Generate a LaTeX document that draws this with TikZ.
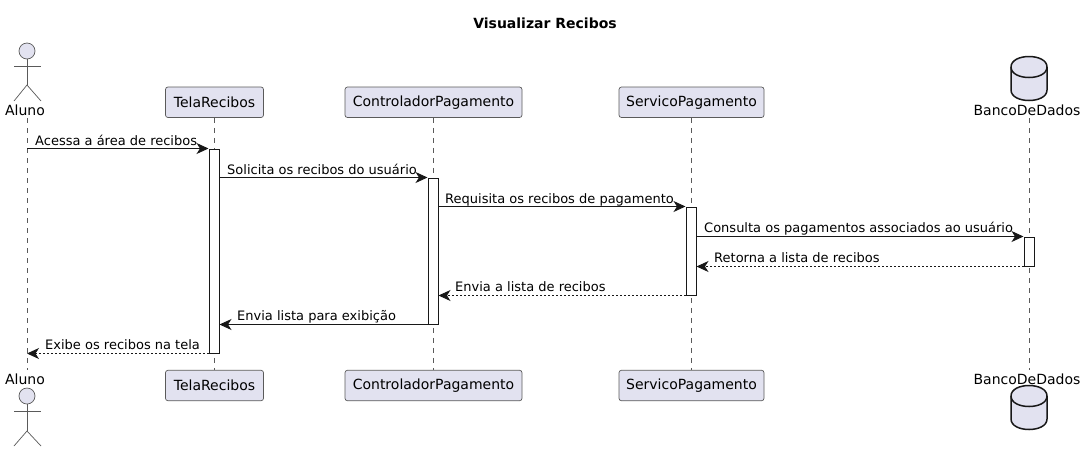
\documentclass[tikz,border=0pt]{standalone}
\usepackage{fontspec}
\setmainfont{DejaVu Sans}
\usetikzlibrary{arrows.meta}

\definecolor{partfill}{HTML}{E2E2F0}
\definecolor{partline}{HTML}{181818}
\definecolor{thinline}{HTML}{5A5A5A}

\tikzset{
    part/.style={draw=thinline, line width=0.7pt, fill=partfill, rounded corners=2.5pt,
        minimum height=30.5pt, inner sep=0pt, font=\fontsize{14}{14}\selectfont},
    lifeline/.style={draw=thinline, line width=0.6pt, dash pattern=on 5pt off 5pt},
    activation/.style={draw=partline, line width=1pt, fill=white, minimum width=10pt, inner sep=0pt},
    msg/.style={draw=partline, line width=1pt, -{Stealth[length=12pt, width=11pt, inset=3.5pt]}},
    reply/.style={msg, dash pattern=on 2pt off 2pt},
    msglabel/.style={anchor=base west, inner sep=0pt, font=\fontsize{13}{13}\selectfont},
    actorlabel/.style={anchor=base, inner sep=0pt, font=\fontsize{14}{14}\selectfont},
    actorline/.style={draw=thinline, line width=0.7pt},
    dbline/.style={draw=partline, line width=1.5pt}
}

\begin{document}
\begin{tikzpicture}[x=1pt, y=-1pt]

    % Fix the page
    \useasboundingbox (0,0) rectangle (1086,451);

    % Title
    \node[inner sep=0pt, font=\fontsize{14}{14}\selectfont\bfseries] (title) at (545,23) {Visualizar Recibos};

    % Participants, top row and bottom row
    \node[part, minimum width=98pt] (telaTop) at (214.5,102.25) {TelaRecibos};
    \node[part, minimum width=177pt] (ctrlTop) at (433.5,102.25) {ControladorPagamento};
    \node[part, minimum width=145pt] (servTop) at (691.5,102.25) {ServicoPagamento};
    \node[part, minimum width=98pt] (telaBot) at (214.5,385.5) {TelaRecibos};
    \node[part, minimum width=177pt] (ctrlBot) at (433.5,385.5) {ControladorPagamento};
    \node[part, minimum width=145pt] (servBot) at (691.5,385.5) {ServicoPagamento};

    % Ends of the two lifelines without a box
    \coordinate (alunoTop) at (27,118);
    \coordinate (alunoBot) at (27,370);
    \coordinate (bancoTop) at (1029,118);
    \coordinate (bancoBot) at (1029,370);

    % Lifelines
    \draw[lifeline] (alunoTop) -- (alunoBot);
    \draw[lifeline] (telaTop) -- (telaBot);
    \draw[lifeline] (ctrlTop) -- (ctrlBot);
    \draw[lifeline] (servTop) -- (servBot);
    \draw[lifeline] (bancoTop) -- (bancoBot);

    % Activation bars
    \node[activation, minimum height=204pt] (actTela) at (214,251) {};
    \node[activation, minimum height=146pt] (actCtrl) at (433,251) {};
    \node[activation, minimum height=88pt] (actServ) at (691,251) {};
    \node[activation, minimum height=29pt] (actBanco) at (1029,251.5) {};

    % Actor, top
    \node[actorlabel] (alunoNameTop) at (25,115) {Aluno};
    \draw[actorline, fill=partfill] (27,51) circle (8);
    \draw[actorline] (27,59) -- (27,85);
    \draw[actorline] (14,66) -- (41,66);
    \draw[actorline] (14,101) -- (27,85) -- (41,101);

    % Actor, bottom
    \node[actorlabel] (alunoNameBot) at (25,384) {Aluno};
    \draw[actorline, fill=partfill] (27,396) circle (8);
    \draw[actorline] (27,404) -- (27,431);
    \draw[actorline] (14,411) -- (41,411);
    \draw[actorline] (14,446) -- (27,431) -- (41,446);

    % Database, top
    \node[actorlabel] (bancoNameTop) at (1027,115) {BancoDeDados};
    \draw[dbline, fill=partfill] (1011,67) .. controls (1011,53) and (1047,53) .. (1047,67)
        -- (1047,90) .. controls (1047,104) and (1011,104) .. (1011,90) -- cycle;
    \draw[dbline] (1011,67) .. controls (1011,81) and (1047,81) .. (1047,67);

    % Database, bottom
    \node[actorlabel] (bancoNameBot) at (1027,384) {BancoDeDados};
    \draw[dbline, fill=partfill] (1011,396) .. controls (1011,382) and (1047,382) .. (1047,396)
        -- (1047,419) .. controls (1047,433) and (1011,433) .. (1011,419) -- cycle;
    \draw[dbline] (1011,396) .. controls (1011,410) and (1047,410) .. (1047,396);

    % Messages
    \draw[msg] (alunoTop |- actTela.north) -- (actTela.north west);
    \draw[msg] (actTela.east |- actCtrl.north) -- (actCtrl.north west);
    \draw[msg] (actCtrl.east |- actServ.north) -- (actServ.north west);
    \draw[msg] (actServ.east |- actBanco.north) -- (actBanco.north west);
    \draw[reply] (actBanco.south west) -- (actServ.east |- actBanco.south);
    \draw[reply] (actServ.south west) -- (actCtrl.east |- actServ.south);
    \draw[msg] (actCtrl.south west) -- (actTela.east |- actCtrl.south);
    \draw[reply] (actTela.south west) -- (alunoTop |- actTela.south);

    % Message labels
    \node[msglabel] (msgA) at (35,145) {Acessa a área de recibos};
    \node[msglabel] (msgB) at (227,174) {Solicita os recibos do usuário};
    \node[msglabel] (msgC) at (445,203) {Requisita os recibos de pagamento};
    \node[msglabel] (msgD) at (704,232) {Consulta os pagamentos associados ao usuário};
    \node[msglabel] (msgE) at (714,262) {Retorna a lista de recibos};
    \node[msglabel] (msgF) at (455,291) {Envia a lista de recibos};
    \node[msglabel] (msgG) at (237,320) {Envia lista para exibição};
    \node[msglabel] (msgH) at (45,349) {Exibe os recibos na tela};

\end{tikzpicture}
\end{document}
